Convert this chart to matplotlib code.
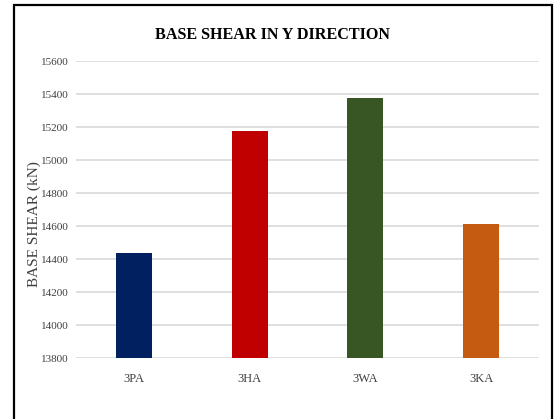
import matplotlib.pyplot as plt
from matplotlib.patches import Rectangle

# base shear per model, Y direction
models = ['3PA', '3HA', '3WA', '3KA']
base_shear = [14440, 15175, 15375, 14615]
bar_colors = ['#002060', '#C00000', '#375623', '#C55A11']
y_ticks = list(range(13800, 15601, 200))

plt.rcParams['font.family'] = ['Liberation Serif', 'DejaVu Serif']

fig = plt.figure(figsize=(5.56, 4.19), dpi=100)
ax = fig.add_axes([0.1367, 0.1449, 0.8327, 0.7095])

x = range(len(models))
ax.bar(x, base_shear, width=0.31, color=bar_colors, zorder=3)

ax.set_xlim(-0.5, len(models) - 0.5)
ax.set_ylim(13800, 15600)
ax.set_yticks(y_ticks)
ax.set_xticks(list(x))
ax.set_xticklabels(models)
ax.grid(axis='y', color='#D9D9D9', linewidth=1.2, zorder=0)
for s in ax.spines.values():
    s.set_visible(False)
ax.tick_params(axis='both', length=0, colors='#404040')
ax.tick_params(axis='y', pad=5.5, labelsize=8)
ax.tick_params(axis='x', pad=10.5, labelsize=9)

ax.set_ylabel('BASE SHEAR (kN)', fontsize=11, color='#404040')
ax.yaxis.set_label_coords(-0.076, 0.45)

fig.text(0.491, 0.917, 'BASE SHEAR IN Y DIRECTION', ha='center', va='center',
         fontsize=11.6, fontweight='bold', color='black')

# frame around the chart area
fig.patches.append(Rectangle((13.5 / 556, -0.05), (551.7 - 13.5) / 556, 1.05 - 5.5 / 419,
                             transform=fig.transFigure, fill=False,
                             edgecolor='black', linewidth=1.6))

fig.savefig('out.png', dpi=100)
